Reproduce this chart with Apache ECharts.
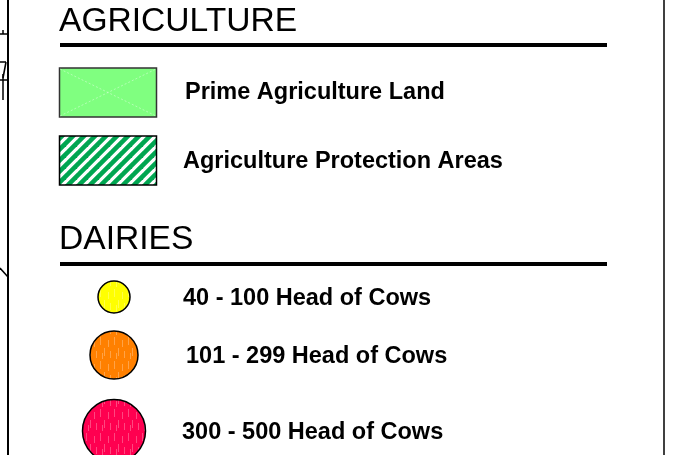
<!DOCTYPE html>
<html><head><meta charset="utf-8">
<script src="https://cdn.jsdelivr.net/npm/echarts@6/dist/echarts.min.js"></script>
<style>html,body{margin:0;padding:0;background:#fff}#c{width:684px;height:455px}</style>
</head><body><div id="c"></div>
<script>
// ---- content ----
const sectionTitles = ['AGRICULTURE', 'DAIRIES'];
const agricultureLabels = ['Prime Agriculture Land', 'Agriculture Protection Areas'];
const dairyLabels = ['40 - 100 Head of Cows', '101 - 299 Head of Cows', '300 - 500 Head of Cows'];

// ---- layout / style ----
const FONT = '"Liberation Sans", Arial, Helvetica, sans-serif';
const titleLayout = [{x: 59, y: 22, lineY: 45}, {x: 59, y: 240, lineY: 264}];
const agriLayout = [{rectY: 68, tx: 185, ty: 93}, {rectY: 136, tx: 183, ty: 162}];
const dairyLayout = [
  {cy: 297, r: 16, tx: 183, ty: 299, color: '#ffff00'},
  {cy: 355, r: 24, tx: 186, ty: 357, color: '#ff8000'},
  {cy: 431, r: 31.5, tx: 182, ty: 433, color: '#ff0050'}
];

function hatchPattern() {
  const s = 11, c = document.createElement('canvas');
  c.width = s; c.height = s;
  const g = c.getContext('2d');
  g.fillStyle = '#ffffff'; g.fillRect(0, 0, s, s);
  g.strokeStyle = '#00a651'; g.lineWidth = 4.6;
  [[-s, s, s, -s], [0, 2 * s, 2 * s, 0], [0, s, s, 0]].forEach(function (l) {
    g.beginPath(); g.moveTo(l[0], l[1]); g.lineTo(l[2], l[3]); g.stroke();
  });
  return {image: c, repeat: 'repeat'};
}
function dashPattern(color) {
  const w = 14, h = 24, c = document.createElement('canvas');
  c.width = w; c.height = h;
  const g = c.getContext('2d');
  g.fillStyle = color; g.fillRect(0, 0, w, h);
  g.strokeStyle = 'rgba(255,255,255,0.28)'; g.lineWidth = 1;
  [[2.5, 1, 9], [6.5, 12, 20], [10.5, 4, 11], [12.5, 15, 22], [4.5, 17, 23]].forEach(function (d) {
    g.beginPath(); g.moveTo(d[0], d[1]); g.lineTo(d[0], d[2]); g.stroke();
  });
  return {image: c, repeat: 'repeat'};
}

const elements = [];
// frame lines
elements.push({type: 'line', shape: {x1: 8, y1: 0, x2: 8, y2: 455}, style: {stroke: '#000', lineWidth: 2}});
elements.push({type: 'line', shape: {x1: 664, y1: 0, x2: 664, y2: 455}, style: {stroke: '#000', lineWidth: 1.5}});
// stray map fragments at left edge
[[0, 34, 8, 34], [3, 30, 3, 34], [0, 62, 6, 62], [6, 62, 3, 78], [3, 74, 3, 100], [0, 80, 8, 80], [0, 268, 8, 277]].forEach(function (l) {
  elements.push({type: 'line', shape: {x1: l[0], y1: l[1], x2: l[2], y2: l[3]}, style: {stroke: '#000', lineWidth: 1.5}});
});

sectionTitles.forEach(function (t, i) {
  const L = titleLayout[i];
  elements.push({type: 'text', x: L.x, y: L.y, style: {text: t, font: '33.6px ' + FONT, fill: '#000', align: 'left', verticalAlign: 'middle'}});
  elements.push({type: 'line', shape: {x1: 60, y1: L.lineY, x2: 607, y2: L.lineY}, style: {stroke: '#000', lineWidth: 4}});
});

// agriculture swatches
elements.push({type: 'rect', shape: {x: 59.5, y: agriLayout[0].rectY, width: 97, height: 49}, style: {fill: '#80ff80', stroke: '#333', lineWidth: 1.5}});
elements.push({type: 'line', shape: {x1: 60, y1: agriLayout[0].rectY + 1, x2: 156, y2: agriLayout[0].rectY + 48}, style: {stroke: 'rgba(255,255,255,0.4)', lineWidth: 1, lineDash: [2, 2]}});
elements.push({type: 'line', shape: {x1: 60, y1: agriLayout[0].rectY + 48, x2: 156, y2: agriLayout[0].rectY + 1}, style: {stroke: 'rgba(255,255,255,0.4)', lineWidth: 1, lineDash: [2, 2]}});
elements.push({type: 'rect', shape: {x: 59.5, y: agriLayout[1].rectY, width: 97, height: 49}, style: {fill: hatchPattern(), stroke: '#000', lineWidth: 1.5}});

agricultureLabels.forEach(function (t, i) {
  const L = agriLayout[i];
  elements.push({type: 'text', x: L.tx, y: L.ty, style: {text: t, font: 'bold 23.5px ' + FONT, fill: '#000', align: 'left', verticalAlign: 'middle'}});
});

dairyLabels.forEach(function (t, i) {
  const L = dairyLayout[i];
  elements.push({type: 'circle', shape: {cx: 114, cy: L.cy, r: L.r}, style: {fill: dashPattern(L.color), stroke: '#000', lineWidth: 1.5}});
  elements.push({type: 'text', x: L.tx, y: L.ty, style: {text: t, font: 'bold 23.5px ' + FONT, fill: '#000', align: 'left', verticalAlign: 'middle'}});
});

const chart = echarts.init(document.getElementById('c'), null, {renderer: 'canvas'});
chart.setOption({backgroundColor: '#ffffff', animation: false, graphic: {elements: elements}});
</script>
</body></html>
